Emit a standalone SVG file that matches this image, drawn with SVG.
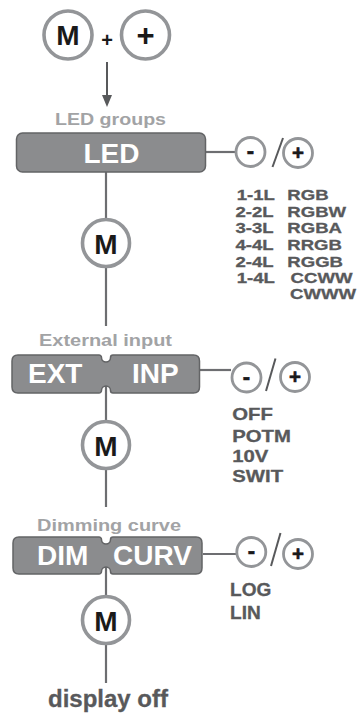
<svg xmlns="http://www.w3.org/2000/svg" width="359" height="713" viewBox="0 0 359 713">
<style>
text{font-family:"Liberation Sans",Arial,sans-serif;font-weight:bold}
.bg{fill:#ffffff}
.big{fill:#ffffff;stroke:#939598;stroke-width:3.6}
.sm{fill:#ffffff;stroke:#939598;stroke-width:2.8}
.box{fill:#8b8c8e;stroke:#636466;stroke-width:1.5}
.btx{fill:#ffffff;font-size:28px}
.sym{fill:#1a1a1a}
.ss{fill:#1a1a1a;stroke:#1a1a1a;stroke-width:0.6}
.lbl{fill:#a2a3a5;font-size:16.5px}
.opt{fill:#58595b;stroke:#58595b;stroke-width:0.3}
.ln{stroke:#6d6e71;stroke-width:2.2;fill:none}
.sl{stroke:#58595b;stroke-width:2;fill:none}
</style>
<rect class="bg" x="0" y="0" width="359" height="713"/>

<g id="connectors">
  <line x1="107" y1="62" x2="107" y2="97" stroke="#58595b" stroke-width="2"/>
  <polygon points="102,95 112,95 107,107" fill="#58595b"/>
  <line class="ln" x1="106" y1="172" x2="106" y2="220"/>
  <line class="ln" x1="106" y1="266" x2="106" y2="326"/>
  <line class="ln" x1="106" y1="386" x2="106" y2="421"/>
  <line class="ln" x1="106" y1="469" x2="106" y2="507"/>
  <line class="ln" x1="106" y1="567" x2="106" y2="596"/>
  <line class="ln" x1="106" y1="644" x2="106" y2="683"/>
  <line class="ln" x1="206" y1="152" x2="236" y2="152"/>
  <line class="ln" x1="199.5" y1="370" x2="231" y2="370"/>
  <line class="ln" x1="203" y1="554" x2="236" y2="554"/>
</g>

<g id="start-M">
  <circle class="big" cx="68" cy="35" r="24"/>
  <text class="sym" x="68" y="45" font-size="28" text-anchor="middle">M</text>
</g>
<g id="start-plus-sign">
  <text class="sym" x="107" y="46.5" font-size="20" text-anchor="middle">+</text>
</g>
<g id="start-plus">
  <circle class="big" cx="145.5" cy="35" r="24"/>
  <text class="sym" x="145.5" y="46" font-size="31" text-anchor="middle">+</text>
</g>

<g id="led-node">
  <text class="lbl" x="55" y="125" textLength="111" lengthAdjust="spacingAndGlyphs">LED groups</text>
  <rect class="box" x="16.5" y="133" width="189" height="39" rx="6"/>
  <text class="btx" x="111.5" y="162.5" text-anchor="middle">LED</text>
</g>
<g id="led-adjust">
  <circle class="sm" cx="250.5" cy="152" r="14.5"/>
  <text class="ss" x="250.5" y="158" font-size="22" text-anchor="middle">-</text>
  <line class="sl" x1="272.5" y1="167" x2="283" y2="138"/>
  <circle class="sm" cx="298" cy="153" r="14.5"/>
  <text class="ss" x="298" y="160.3" font-size="20.5" text-anchor="middle">+</text>
</g>
<g id="led-options" class="opt" font-size="15" transform="matrix(1.24 0 0 1 236.7 0)">
  <text x="0" y="200">1-1L</text><text x="40.8" y="200">RGB</text>
  <text x="-1" y="216.7">2-2L</text><text x="40.8" y="216.7">RGBW</text>
  <text x="-1" y="233.3">3-3L</text><text x="40.8" y="233.3">RGBA</text>
  <text x="-1" y="250">4-4L</text><text x="40.8" y="250">RRGB</text>
  <text x="-1" y="266.7">2-4L</text><text x="40.8" y="266.7">RGGB</text>
  <text x="0" y="283.3">1-4L</text><text x="43.5" y="283.3">CCWW</text>
  <text x="43" y="299.3">CWWW</text>
</g>

<g id="M1">
  <circle class="big" cx="106" cy="243" r="23.5"/>
  <text class="sym" x="106" y="253.5" font-size="28" text-anchor="middle">M</text>
</g>

<g id="ext-node">
  <text class="lbl" x="39" y="346" textLength="133" lengthAdjust="spacingAndGlyphs">External input</text>
  <path class="box" d="M18,355 H99 A2.5,2.5 0 0 1 101.5,357.5 A4.5,4.5 0 0 0 110.5,357.5 A2.5,2.5 0 0 1 113,355 H193.5 Q199.5,355 199.5,361 V387 Q199.5,393 193.5,393 H113 A2.5,2.5 0 0 1 110.5,390.5 A4.5,4.5 0 0 0 101.5,390.5 A2.5,2.5 0 0 1 99,393 H18 Q12,393 12,387 V361 Q12,355 18,355 Z"/>
  <text class="btx" x="28" y="383" font-size="27">EXT</text>
  <text class="btx" x="132" y="383" font-size="27">INP</text>
</g>
<g id="ext-adjust">
  <circle class="sm" cx="246.5" cy="377.5" r="14.5"/>
  <text class="ss" x="246.5" y="383.5" font-size="22" text-anchor="middle">-</text>
  <line class="sl" x1="266" y1="391" x2="275.5" y2="358.5"/>
  <circle class="sm" cx="295" cy="377" r="14.5"/>
  <text class="ss" x="295" y="384.3" font-size="20.5" text-anchor="middle">+</text>
</g>
<g id="ext-options" class="opt" font-size="16" transform="matrix(1.27 0 0 1 232.3 0)">
  <text x="0" y="420">OFF</text>
  <text x="0" y="441.7">POTM</text>
  <text x="0" y="461.7">10V</text>
  <text x="0" y="481.7">SWIT</text>
</g>

<g id="M2">
  <circle class="big" cx="106" cy="445" r="23.5"/>
  <text class="sym" x="106" y="455.5" font-size="28" text-anchor="middle">M</text>
</g>

<g id="dim-node">
  <text class="lbl" x="37" y="531" textLength="144" lengthAdjust="spacingAndGlyphs">Dimming curve</text>
  <path class="box" d="M19,537 H99 A2.5,2.5 0 0 1 101.5,539.5 A4.5,4.5 0 0 0 110.5,539.5 A2.5,2.5 0 0 1 113,537 H196 Q202,537 202,543 V568 Q202,574 196,574 H113 A2.5,2.5 0 0 1 110.5,571.5 A4.5,4.5 0 0 0 101.5,571.5 A2.5,2.5 0 0 1 99,574 H19 Q13,574 13,568 V543 Q13,537 19,537 Z"/>
  <text class="btx" x="37" y="565">DIM</text>
  <text class="btx" x="113" y="565">CURV</text>
</g>
<g id="dim-adjust">
  <circle class="sm" cx="251.3" cy="552" r="14.5"/>
  <text class="ss" x="251.3" y="558" font-size="22" text-anchor="middle">-</text>
  <line class="sl" x1="271" y1="566" x2="280.5" y2="533"/>
  <circle class="sm" cx="298" cy="554" r="14.5"/>
  <text class="ss" x="298" y="561.3" font-size="20.5" text-anchor="middle">+</text>
</g>
<g id="dim-options" class="opt" font-size="18" transform="matrix(1.06 0 0 1 230 0)">
  <text x="0" y="596">LOG</text>
  <text x="0" y="619">LIN</text>
</g>

<g id="M3">
  <circle class="big" cx="106" cy="620" r="23.5"/>
  <text class="sym" x="106" y="630.5" font-size="28" text-anchor="middle">M</text>
</g>

<g id="display-off">
  <text class="opt" x="48" y="707" font-size="23.5" textLength="120" lengthAdjust="spacingAndGlyphs">display off</text>
</g>
</svg>
